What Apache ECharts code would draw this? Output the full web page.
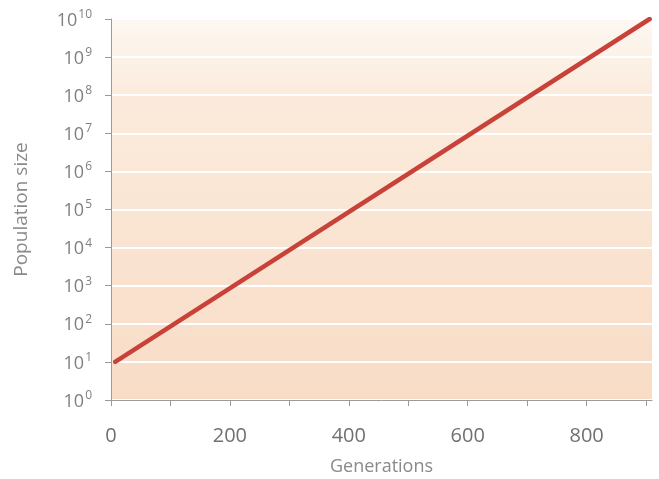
<!DOCTYPE html>
<html>
<head>
<meta charset="utf-8">
<script src="https://cdn.jsdelivr.net/npm/echarts@6/dist/echarts.min.js"></script>
<style>
  html, body { margin: 0; padding: 0; background: #fff; }
  #chart { width: 659px; height: 479px; }
</style>
</head>
<body>
<div id="chart"></div>
<script>
// generations
const generations = [7, 906];
// population size at those generations
const population = [10, 1e10];
// y tick exponents (10^n)
const yExponents = [0, 1, 2, 3, 4, 5, 6, 7, 8, 9, 10];
// labelled x ticks
const xLabels = [0, 200, 400, 600, 800];

const chart = echarts.init(document.getElementById('chart'));

const points = generations.map((g, i) => [g, population[i]]);

chart.setOption({
  animation: false,
  grid: { left: 111, right: 7, top: 19, bottom: 79, show: true, borderWidth: 0,
    outerBoundsMode: 'none', containLabel: false,
    backgroundColor: {
      type: 'linear', x: 0, y: 0, x2: 0, y2: 1,
      colorStops: [
        { offset: 0, color: '#fdf8f2' },
        { offset: 0.2, color: '#fbebdc' },
        { offset: 1, color: '#f8dcc6' }
      ]
    }
  },
  xAxis: {
    type: 'value', min: 0, max: 910, interval: 100,
    name: 'Generations', nameLocation: 'middle', nameGap: 58,
    nameTextStyle: { color: '#8a8a8a', fontSize: 18, fontFamily: 'Open Sans' },
    axisLine: { show: true, lineStyle: { color: '#9a9a9a', width: 1 } },
    axisTick: { show: true, length: 6, lineStyle: { color: '#9a9a9a' } },
    splitLine: { show: false },
    axisLabel: {
      margin: 26, color: '#707070', fontSize: 20, fontFamily: 'Open Sans',
      showMaxLabel: false,
      formatter: v => xLabels.indexOf(v) >= 0 ? String(v) : ''
    }
  },
  yAxis: {
    type: 'log', logBase: 10, min: 1, max: 1e10, interval: 1,
    name: 'Population size', nameLocation: 'middle', nameGap: 80,
    nameTextStyle: { color: '#8a8a8a', fontSize: 19, fontFamily: 'Open Sans' },
    axisLine: { show: true, lineStyle: { color: '#9a9a9a', width: 1 } },
    axisTick: { show: true, inside: false, length: 6, lineStyle: { color: '#9a9a9a' } },
    splitLine: { show: true, lineStyle: { color: '#ffffff', width: 2 } },
    axisLabel: {
      margin: 19, color: '#808080',
      formatter: v => {
        const e = Math.round(Math.log10(v));
        return yExponents.indexOf(e) >= 0 ? '{b|10}{s|' + e + '}' : '';
      },
      rich: {
        b: { fontSize: 18, fontFamily: 'Open Sans', color: '#808080', verticalAlign: 'bottom' },
        s: { fontSize: 12, fontFamily: 'Open Sans', color: '#808080', verticalAlign: 'top', padding: [0, 0, 9, 1] }
      }
    }
  },
  series: [{
    type: 'line',
    data: points,
    showSymbol: false,
    lineStyle: { color: '#c8423a', width: 4.5, cap: 'round' }
  }]
});
</script>
</body>
</html>
